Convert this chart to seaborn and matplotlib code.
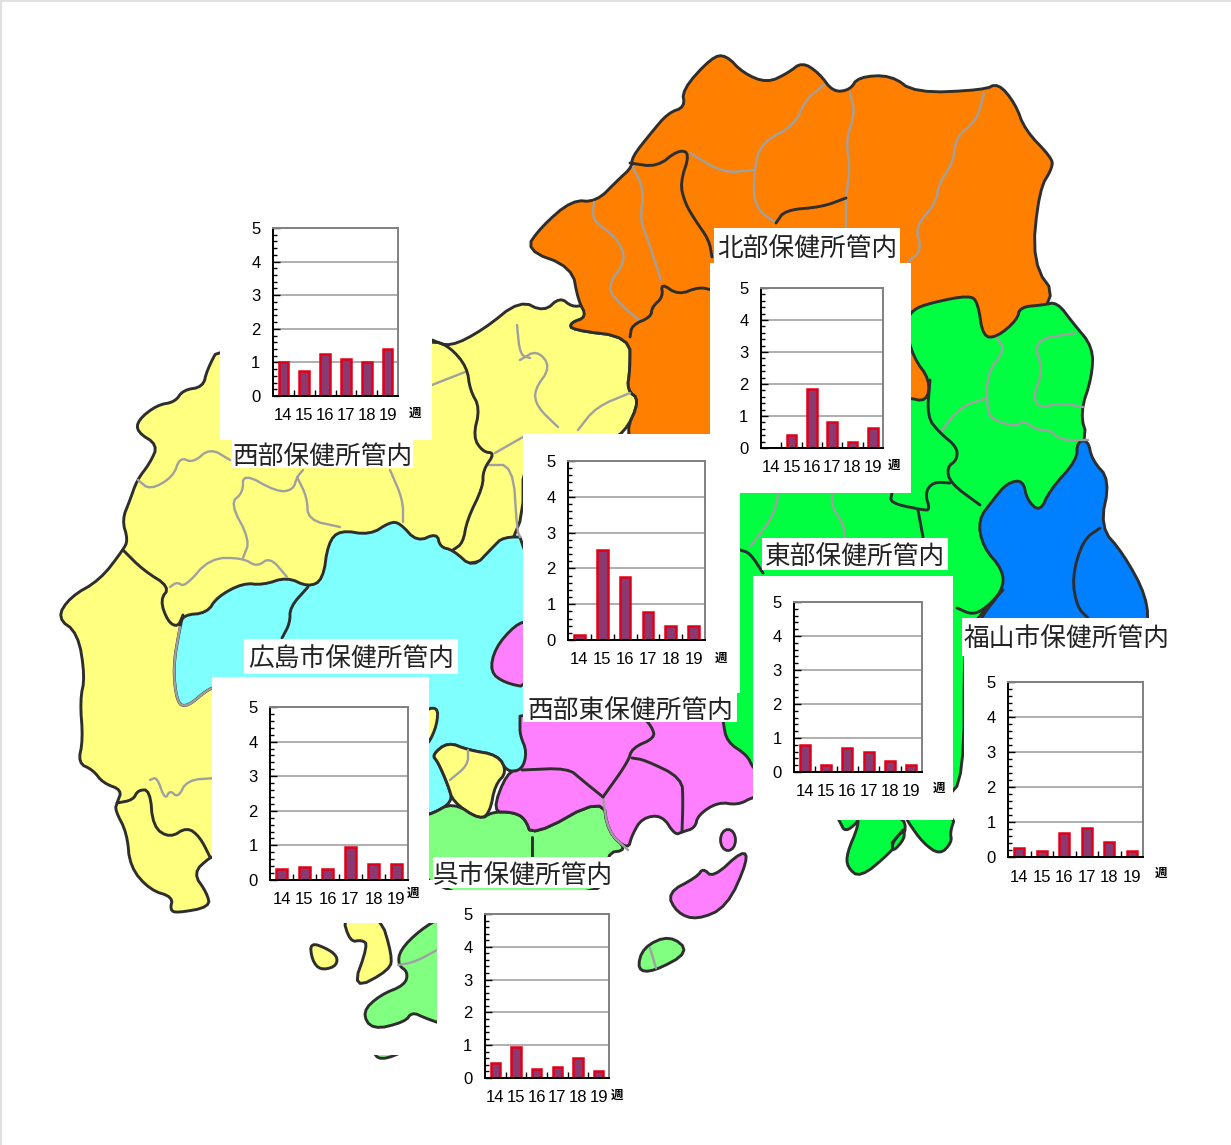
import matplotlib
matplotlib.use('Agg')
import matplotlib.pyplot as plt
from matplotlib.patches import Rectangle, Ellipse
from matplotlib.ticker import MultipleLocator, FixedLocator
import seaborn as sns

W, H = 1231, 1145

weeks = ['14', '15', '16', '17', '18', '19']
seibu = [1.0, 0.75, 1.25, 1.1, 1.0, 1.4]
hokubu = [0, 0.42, 1.85, 0.8, 0.2, 0.62]
seibu_higashi = [0.13, 2.52, 1.77, 0.78, 0.38, 0.38]
tobu = [0.78, 0.2, 0.7, 0.58, 0.32, 0.22]
fukuyama = [0.25, 0.17, 0.7, 0.83, 0.42, 0.17]
hiroshima = [0.33, 0.38, 0.33, 0.95, 0.45, 0.45]
kure = [0.45, 0.93, 0.27, 0.35, 0.6, 0.2]

# map shapes, traced in picture pixels
yellow = [(220,345),(432,340),(450,347),(483,330),(520,300),(544,312),(560,297),(572,307),(585,305),(587,317),(570,323),(572,330),(630,337),(630,370),(627,390),(640,400),(625,433),(600,445),(523,445),(523,537),(473,568),(400,560),(320,600),(230,650),(216,700),(216,857),(210,857),(193,873),(207,893),(210,907),(177,913),(170,910),(173,897),(150,890),(130,867),(127,833),(115,810),(117,803),(122,790),(103,783),(93,770),(78,763),(83,740),(80,700),(85,677),(78,633),(57,618),(70,597),(100,580),(123,550),(128,540),(122,520),(130,500),(137,480),(150,463),(158,445),(137,432),(138,420),(157,405),(175,402),(183,390),(203,387),(207,370)]
cyan = [(180,627),(183,615),(207,613),(217,597),(243,583),(263,585),(287,577),(308,587),(323,580),(328,543),(340,530),(370,535),(390,522),(400,523),(417,542),(437,533),(440,547),(453,550),(473,568),(493,547),(503,537),(530,537),(530,768),(522,770),(507,772),(498,755),(468,750),(448,742),(432,755),(438,762),(448,785),(453,802),(430,815),(418,815),(418,690),(216,687),(207,690),(187,707),(177,703),(173,667)]
orange = [(525,250),(541,227),(572,200),(596,202),(618,180),(632,167),(632,157),(651,133),(668,113),(685,107),(682,90),(712,57),(726,55),(743,73),(767,83),(788,73),(802,62),(819,73),(833,92),(850,90),(858,77),(891,75),(915,93),(984,90),(998,83),(1015,103),(1025,130),(1051,157),(1053,167),(1039,190),(1032,263),(1059,300),(1000,345),(935,403),(900,445),(640,445),(625,433),(640,400),(627,390),(630,370),(630,337),(572,330),(570,323),(587,317),(578,300),(572,267)]
green = [(912,310),(930,303),(970,295),(978,303),(983,337),(997,337),(1017,320),(1020,307),(1043,305),(1057,302),(1073,323),(1093,347),(1092,377),(1080,413),(1088,440),(1050,520),(1003,590),(987,607),(973,625),(964,640),(964,778),(945,800),(740,800),(700,760),(710,700),(710,480),(800,400),(905,397),(927,402),(930,380),(913,357),(905,325)]
green_isle1 = [(858,815),(858,827),(847,853),(847,867),(860,878),(890,853),(907,832),(902,815)]
green_isle2 = [(905,815),(908,822),(923,843),(940,855),(952,842),(950,832),(956,815)]
green_isle3 = [(836,815),(840,822),(845,832),(857,823),(860,815)]
green_isle4 = [(892,843),(903,830),(905,838),(893,852)]
blue = [(1077,442),(1088,440),(1092,460),(1110,480),(1100,527),(1123,553),(1147,597),(1148,632),(980,632),(980,618),(1003,590),(1003,570),(983,547),(978,520),(993,500),(1007,483),(1023,480),(1027,500),(1040,512),(1050,490),(1077,460)]
magenta = [(520,712),(723,712),(723,722),(727,742),(747,755),(753,768),(762,775),(762,797),(753,797),(738,805),(718,802),(698,815),(695,828),(682,832),(675,835),(662,815),(642,818),(632,835),(628,850),(608,832),(603,797),(532,837),(525,818),(512,812),(492,812),(507,772),(522,770),(527,752),(520,735),(520,723)]
magenta_lobe = [(530,620),(515,625),(495,648),(490,672),(505,683),(530,688)]
magenta_isle = [(667,893),(697,877),(703,868),(713,878),(743,850),(748,860),(727,907),(697,920),(677,913)]
yellow_small = [(432,755),(448,742),(468,750),(498,755),(507,772),(495,785),(490,812),(480,820),(453,802),(448,785),(438,762)]
yellow_shard = [(420,712),(438,706),(437,725),(428,745),(420,745)]
kure_green = [(418,815),(430,815),(453,802),(480,820),(492,812),(512,812),(525,818),(532,837),(603,797),(608,832),(628,850),(605,853),(610,897),(418,897)]
kure_isle1 = [(445,915),(420,930),(400,950),(398,965),(408,972),(405,985),(380,995),(362,1012),(372,1030),(405,1022),(412,1012),(425,1018),(445,1025)]
kure_isle2 = [(637,970),(643,947),(670,935),(690,952),(653,972)]
kure_sliver = [(372,1050),(408,1050),(380,1061)]
yellow_isle1 = [(310,942),(330,950),(338,958),(335,967),(320,970),(312,960)]
yellow_isle2 = [(342,915),(350,942),(362,940),(368,945),(352,990),(390,970),(392,955),(380,915)]

map_shapes = [
    (yellow, '#ffff80'), (cyan, '#80ffff'), (orange, '#ff8000'), (green, '#00ff40'),
    (green_isle3, '#00ff40'), (green_isle1, '#00ff40'), (green_isle2, '#00ff40'), (green_isle4, '#00ff40'),
    (blue, '#0080ff'), (yellow_shard, '#ffff80'), (yellow_small, '#ffff80'), (kure_green, '#80ff80'),
    (magenta, '#ff80ff'), (magenta_lobe, '#ff80ff'), (magenta_isle, '#ff80ff'), (kure_isle1, '#80ff80'),
    (kure_isle2, '#80ff80'), (kure_sliver, '#80ff80'), (yellow_isle1, '#ffff80'), (yellow_isle2, '#ffff80'),
]

# district borders (dark) and town borders (grey)
dark_lines = [
    [(432,340),(450,347),(467,367),(470,390),(480,408),(473,437),(483,452),(495,453),(483,470),(483,487),(467,520),(463,543),(453,550)],
    [(123,550),(143,570),(170,587),(160,600),(168,622),(178,627),(183,615)],
    [(308,587),(290,607),(290,623),(282,638)],
    [(117,803),(133,800),(138,790),(150,790),(153,827),(170,838),(187,827),(200,837),(210,857)],
    [(630,163),(657,167),(678,150),(690,153),(680,183),(685,203),(695,220),(709,240),(712,257)],
    [(630,337),(632,325),(651,317),(652,307),(663,297),(661,283),(678,295),(699,287),(712,290)],
    [(776,223),(785,210),(822,207),(846,198)],
    [(930,380),(927,417),(940,433),(957,447),(957,460),(947,467),(950,483),(980,505)],
    [(950,483),(933,482),(925,493),(930,510),(923,510),(890,503),(892,493)],
    [(918,510),(923,537)],
    [(1003,590),(987,607),(973,615),(957,608)],
    [(740,550),(750,553),(763,573)],
    [(1100,528),(1083,540),(1072,577),(1077,607),(1088,618)],
    [(603,797),(582,780),(568,768),(522,770)],
    [(603,797),(628,762),(632,748),(655,738),(652,727),(642,716)],
    [(632,758),(645,760),(682,778),(683,802),(682,832)],
    [(532,837),(532,856)],
    [(892,843),(903,830)],
]
grey_lines = [
    [(170,587),(177,582),(185,587),(210,558),(243,558),(257,567),(270,557),(287,577)],
    [(243,558),(250,540),(230,503),(243,493),(243,473),(277,492),(293,490),(297,477),(303,470)],
    [(297,477),(307,497),(308,520),(340,527)],
    [(138,480),(150,490),(173,477),(180,457),(193,463),(210,448),(230,460)],
    [(390,470),(403,500),(403,522)],
    [(432,385),(465,372)],
    [(495,453),(523,437)],
    [(487,465),(513,465),(517,530),(520,537)],
    [(517,325),(520,355),(530,358)],
    [(520,360),(537,350),(551,367),(534,390),(537,407),(558,427)],
    [(578,430),(596,407),(630,393)],
    [(661,280),(647,237),(640,220),(644,190),(633,167)],
    [(594,202),(592,220),(616,237),(627,260),(606,287),(623,307),(639,320)],
    [(690,153),(723,173),(754,170)],
    [(824,85),(805,100),(795,125),(761,143),(754,170),(754,207),(776,223)],
    [(846,198),(846,227)],
    [(850,93),(855,113),(846,140),(850,167),(846,198)],
    [(984,93),(977,120),(956,137),(953,163),(939,183),(936,203),(915,227),(922,250),(908,262)],
    [(778,495),(773,517),(750,547)],
    [(832,495),(832,507),(843,523),(845,537)],
    [(940,433),(960,407),(987,398)],
    [(997,338),(1005,350),(987,373),(987,410),(993,420),(1017,427),(1022,420),(1037,430),(1050,430),(1060,440),(1088,440)],
    [(1075,333),(1033,340),(1043,370),(1033,397),(1040,408),(1060,403),(1083,407)],
    [(180,627),(173,667),(177,703),(187,707),(207,690),(216,687)],
    [(150,780),(157,777),(165,800),(170,790),(178,798),(187,780),(216,778)],
    [(468,750),(468,765),(450,780)],
    [(603,797),(608,832),(628,850)],
    [(650,948),(656,968)],
    [(398,965),(415,962),(437,950)],
]

# label boxes: text, x0, y0, x1, y1
labels = [
    ('北部保健所管内', 714, 228, 900, 263),
    ('西部保健所管内', 232, 440, 413, 468),
    ('西部東保健所管内', 523, 693, 737, 722),
    ('東部保健所管内', 762, 538, 948, 570),
    ('福山市保健所管内', 962, 618, 1172, 656),
    ('広島市保健所管内', 244, 639, 458, 674),
    ('呉市保健所管内', 433, 857, 613, 888),
]
covers = [
    (220, 220, 432, 440), (710, 263, 911, 493), (523, 434, 740, 693), (753, 576, 953, 820),
    (964, 656, 1231, 900), (212, 677, 429, 923), (437, 890, 633, 1110), (300, 880, 437, 923),
    (300, 1032, 437, 1055),
]
# inset plot areas: values, x0, y0, x1, y1, week mark x, y
insets = [
    (seibu, 273, 228, 398, 396, 415, 413), (hokubu, 761, 288, 883, 448, 894, 465),
    (seibu_higashi, 568, 461, 705, 640, 721, 658), (tobu, 794, 602, 922, 772, 939, 788),
    (fukuyama, 1008, 682, 1143, 857, 1161, 873), (hiroshima, 270, 707, 408, 880, 413, 893),
    (kure, 485, 914, 609, 1078, 617, 1095),
]


def chaikin(points, closed=True, passes=2):
    # rounds the traced corners off
    for _ in range(passes):
        new = []
        count = len(points)
        last = count if closed else count - 1
        if not closed:
            new.append(points[0])
        for i in range(last):
            a = points[i]
            b = points[(i + 1) % count]
            new.append((0.75 * a[0] + 0.25 * b[0], 0.75 * a[1] + 0.25 * b[1]))
            new.append((0.25 * a[0] + 0.75 * b[0], 0.25 * a[1] + 0.75 * b[1]))
        if not closed:
            new.append(points[-1])
        points = new
    return points


sns.set_theme(style='white')
plt.rcParams['font.family'] = ['Liberation Sans', 'Noto Sans CJK JP', 'DejaVu Sans']

fig = plt.figure(figsize=(W / 100, H / 100), dpi=100, facecolor='white')
base = fig.add_axes([0, 0, 1, 1])
base.set_xlim(0, W)
base.set_ylim(H, 0)
base.axis('off')

base.plot([0, 0, W], [H, 0, 0], color='#e0e0e0', lw=2)

for shape, colour in map_shapes:
    base.fill(*zip(*chaikin(shape)), facecolor=colour, edgecolor='#2e2e2e', lw=2.1, joinstyle='round')
base.add_patch(Ellipse((728, 840), 15, 21, facecolor='#ff80ff', edgecolor='#2e2e2e', lw=2))

for line in grey_lines:
    base.plot(*zip(*chaikin(line, closed=False)), color='#a0a0a0', lw=1.7)
for line in dark_lines:
    base.plot(*zip(*chaikin(line, closed=False)), color='#2e2e2e', lw=2.1)

for x0, y0, x1, y1 in covers:
    base.add_patch(Rectangle((x0, y0), x1 - x0, y1 - y0, facecolor='white', edgecolor='none', zorder=5))

for text, x0, y0, x1, y1 in labels:
    base.add_patch(Rectangle((x0, y0), x1 - x0, y1 - y0, facecolor='white', edgecolor='none', zorder=6))
    base.text((x0 + x1) / 2, (y0 + y1) / 2 + 3, text, ha='center', va='center', fontsize=18.5,
              color='#222222', family=['Noto Sans CJK JP', 'DejaVu Sans'], zorder=7)


def draw_inset(values, x0, y0, x1, y1, mark_x, mark_y):
    ax = fig.add_axes([x0 / W, 1 - y1 / H, (x1 - x0) / W, (y1 - y0) / H])
    ax.set_facecolor('white')
    sns.barplot(x=weeks, y=values, color='#8a3a70', saturation=1, edgecolor='#e00018',
                linewidth=1.8, width=0.46, ax=ax)
    ax.set_xlim(-0.5, 5.5)
    ax.set_ylim(0, 5)
    ax.yaxis.set_major_locator(MultipleLocator(1))
    ax.yaxis.set_minor_locator(MultipleLocator(0.2))
    ax.xaxis.set_minor_locator(FixedLocator([0.5, 1.5, 2.5, 3.5, 4.5]))
    ax.grid(axis='y', which='major', color='#999999', lw=1.1)
    ax.set_axisbelow(True)
    ax.tick_params(axis='y', which='major', direction='in', length=5, width=1, color='black',
                   left=True, labelsize=12, labelcolor='black', pad=9)
    ax.tick_params(axis='y', which='minor', direction='in', length=3, width=1, color='black', left=True)
    ax.tick_params(axis='x', which='major', length=0, labelsize=12, labelcolor='black', pad=9)
    ax.tick_params(axis='x', which='minor', direction='in', length=4, width=1, color='black', bottom=True)
    for side, colour in [('top', '#808080'), ('right', '#808080'), ('left', 'black'), ('bottom', 'black')]:
        ax.spines[side].set_visible(True)
        ax.spines[side].set_color(colour)
        ax.spines[side].set_linewidth(1.4)
    base.text(mark_x, mark_y, '週', fontsize=9, fontweight='bold', color='black', ha='center',
              va='center', family=['Noto Sans CJK JP', 'DejaVu Sans'], zorder=8)


for values, x0, y0, x1, y1, mark_x, mark_y in insets:
    draw_inset(values, x0, y0, x1, y1, mark_x, mark_y)

fig.savefig('out.png', dpi=100)
